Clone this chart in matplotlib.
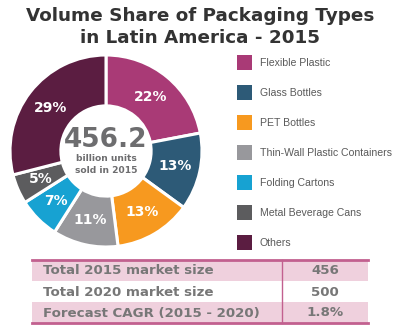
import matplotlib.pyplot as plt
import numpy as np
from matplotlib.patches import Rectangle

# Dados do gráfico
categorias = ["Flexible Plastic", "Glass Bottles", "PET Bottles",
              "Thin-Wall Plastic Containers", "Folding Cartons",
              "Metal Beverage Cans", "Others"]
percentuais = [22, 13, 13, 11, 7, 5, 29]
cores = ["#a93a76", "#2d5a77", "#f7991f", "#98989c", "#17a2d2", "#5c5c5e", "#5b1d41"]

total_centro = "456.2"
linhas_tabela = ["Total 2015 market size", "Total 2020 market size", "Forecast CAGR (2015 - 2020)"]
valores_tabela = ["456", "500", "1.8%"]

W, H = 400, 333
fig = plt.figure(figsize=(4, 3.33), dpi=100)
fig.patch.set_facecolor("white")

# Eixo de sobreposição em coordenadas de pixel
base = fig.add_axes([0, 0, 1, 1])
base.set_xlim(0, W)
base.set_ylim(H, 0)
base.axis("off")

# Título
base.text(200, 16, "Volume Share of Packaging Types", ha="center", va="center",
          fontsize=13.2, fontweight="bold", color="#333333", family="DejaVu Sans")
base.text(200, 38, "in Latin America - 2015", ha="center", va="center",
          fontsize=13.2, fontweight="bold", color="#333333", family="DejaVu Sans")

# Rosca
cx, cy, r = 106, 151, 96
ax = fig.add_axes([(cx - r) / W, 1 - (cy + r) / H, 2 * r / W, 2 * r / H])
wedges, _ = ax.pie(percentuais, colors=cores, startangle=90, counterclock=False,
                   radius=1, wedgeprops=dict(width=0.53, edgecolor="white", linewidth=2.2))
ax.set_xlim(-1, 1)
ax.set_ylim(-1, 1)
ax.set_aspect("equal")
ax.axis("off")

ang = 90.0
for p in percentuais:
    meio = np.deg2rad(ang - p * 3.6 / 2)
    ax.text(0.735 * np.cos(meio), 0.735 * np.sin(meio), f"{p}%", ha="center", va="center",
            color="white", fontsize=10, fontweight="bold")
    ang -= p * 3.6

ax.text(0, 0.11, total_centro, ha="center", va="center", fontsize=19,
        fontweight="bold", color="#6d6d6f")
ax.text(0, -0.08, "billion units", ha="center", va="center", fontsize=6.6,
        fontweight="bold", color="#6d6d6f")
ax.text(0, -0.2, "sold in 2015", ha="center", va="center", fontsize=6.6,
        fontweight="bold", color="#6d6d6f")

# Legenda
for i, (nome, cor) in enumerate(zip(categorias, cores)):
    y = 62 + 30 * i
    base.add_patch(Rectangle((237, y - 7), 15, 15, facecolor=cor, edgecolor="none"))
    base.text(260, y + 0.5, nome, ha="left", va="center", fontsize=7.6, color="#5a5a5a",
              family=["Liberation Sans", "DejaVu Sans"], fontstretch="condensed")

# Tabela
x0, x1, xdiv = 32, 368, 282
topo, alt = 260, 21
rosa = "#efd0dd"
linha = "#c2608f"
for i, (rot, val) in enumerate(zip(linhas_tabela, valores_tabela)):
    y = topo + alt * i
    if i % 2 == 0:
        base.add_patch(Rectangle((x0, y), x1 - x0, alt, facecolor=rosa, edgecolor="none"))
    base.text(43, y + alt / 2 + 0.5, rot, ha="left", va="center", fontsize=9.6,
              fontweight="bold", color="#777777")
    base.text(325, y + alt / 2 + 0.5, val, ha="center", va="center", fontsize=9.6,
              fontweight="bold", color="#777777")
base.plot([x0, x1], [topo, topo], color=linha, lw=2)
base.plot([x0, x1], [topo + 3 * alt, topo + 3 * alt], color=linha, lw=2)
base.plot([xdiv, xdiv], [topo, topo + 3 * alt], color=linha, lw=1)

fig.savefig("out.png", dpi=100)
